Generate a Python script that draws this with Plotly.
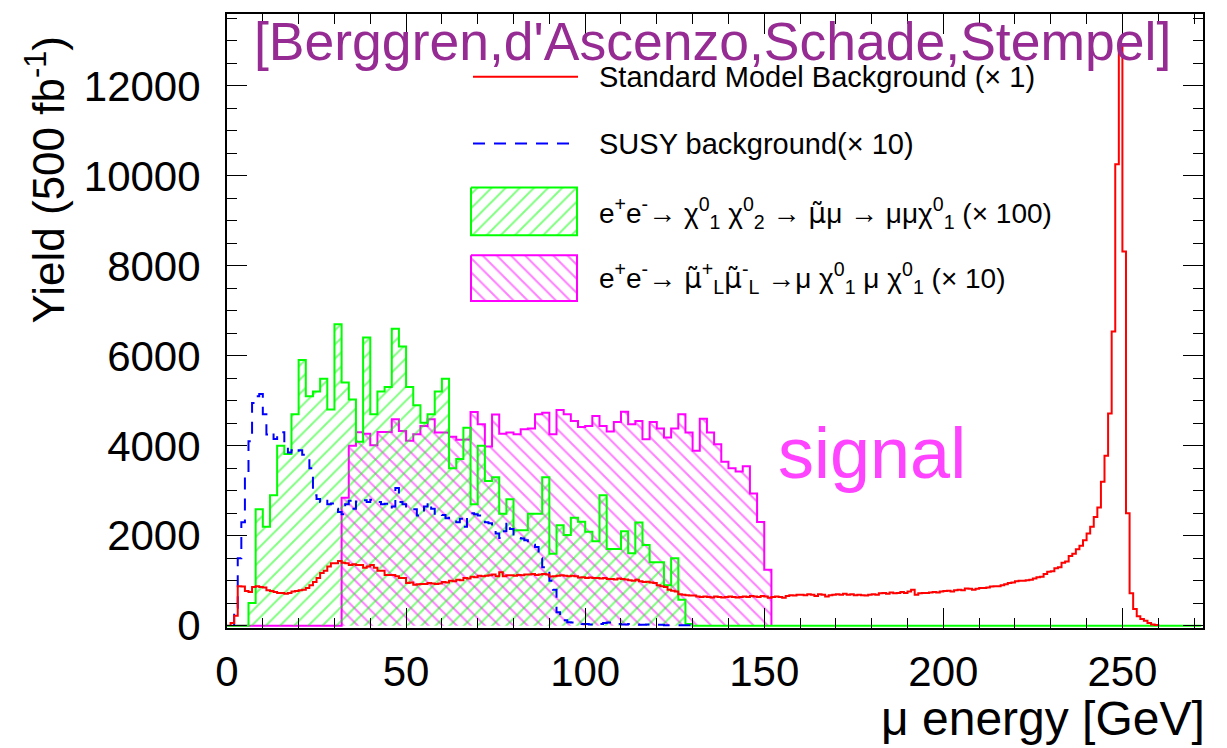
import plotly.graph_objects as go

# ---------------- data ----------------
# Standard Model background (x1), 1 GeV bins starting at 1 GeV
red_start, red_width = 1, 1
red_values = [
    60, 220, 880, 870, 770, 750, 860, 880, 860, 850,
    790, 770, 750, 730, 730, 710, 730, 760, 770, 790,
    800, 840, 900, 970, 1060, 1170, 1220, 1320, 1390, 1390,
    1440, 1400, 1390, 1350, 1370, 1350, 1350, 1290, 1320, 1350,
    1290, 1220, 1220, 1130, 1130, 1130, 1100, 1060, 1060, 950,
    960, 910, 920, 930, 930, 950, 940, 930, 940, 970,
    960, 1000, 990, 1020, 1010, 1060, 1050, 1090, 1080, 1110,
    1100, 1110, 1120, 1140, 1100, 1190, 1100, 1120, 1120, 1110,
    1130, 1120, 1140, 1140, 1150, 1130, 1140, 1150, 1140, 1095,
    1100, 1110, 1120, 1110, 1100, 1110, 1100, 1070, 1080, 1060,
    1070, 1060, 1060, 1050, 1060, 1040, 1040, 1030, 1050, 1040,
    1030, 1010, 1000, 1020, 990, 970, 980, 960, 950, 900,
    880, 860, 800, 780, 760, 700, 690, 680, 670, 670,
    650, 640, 650, 640, 630, 650, 640, 630, 640, 650,
    640, 630, 640, 650, 640, 660, 650, 640, 660, 650,
    620, 640, 650, 640, 620, 660, 680, 670, 690, 690,
    680, 700, 690, 660, 700, 690, 650, 680, 690, 700,
    690, 710, 690, 700, 680, 690, 680, 670, 690, 700,
    690, 720, 730, 710, 740, 720, 730, 750, 730, 760,
    800, 690, 720, 730, 730, 740, 750, 740, 760, 770,
    780, 760, 790, 800, 790, 830, 820, 800, 820, 840,
    840, 850, 870, 880, 880, 900, 920, 950, 960, 990,
    1000, 1000, 1010, 1020, 1050, 1080, 1090, 1150, 1200, 1210,
    1280, 1300, 1400, 1430, 1550, 1600, 1700, 1780, 1900, 2050,
    2200, 2420, 2630, 3200, 3780, 4720, 6540, 10260, 12890, 8320,
    2500, 720, 370, 210, 150, 110, 60, 30, 15,
]

# SUSY background (x10), 1 GeV bins starting at 2 GeV
blue_start, blue_width = 2, 1
blue_values = [
    400, 1500, 2300, 3400, 4100, 4950, 5100, 5150, 4700, 4250,
    4300, 4150, 4250, 4300, 4050, 3850, 3900, 3850, 3900, 3800,
    3800, 3500, 2900, 2820, 2750, 2800, 2700, 2720, 2600, 2530,
    2480, 2700, 2780, 2600, 2760, 2800, 2790, 2750, 2800, 2780,
    2750, 2700, 2710, 2600, 2650, 3060, 2750, 2700, 2650, 2600,
    2590, 2450, 2500, 2650, 2750, 2600, 2460, 2480, 2460, 2390,
    2400, 2350, 2300, 2380, 2200, 2400, 2500, 2480, 2450, 2350,
    2300, 2280, 2170, 2050, 1950, 2100, 2300, 2150, 2000, 1950,
    1940, 1900, 1850, 1800, 1750, 1500, 1300, 1240, 1000, 800,
    300, 200, 120, 80, 70, 60, 50, 40, 40, 30,
    30, 50, 40, 60, 70, 70, 50, 40, 30, 30,
    40, 30, 30, 20, 20, 30, 20, 20, 20, 20,
    10, 10, 10, 10, 10, 10, 10, 10,
]

# chi1 chi2 signal (x100), 2 GeV bins starting at 0 GeV
green_start, green_width = 0, 2
green_values = [
    0, 0, 0, 507, 2590, 2200, 2900, 4000, 3820, 4700,
    5910, 5100, 5210, 5490, 4810, 6700, 5410, 5030, 4090, 6410,
    4700, 5210, 5310, 6600, 6210, 5310, 4900, 4515, 4700, 5210,
    5490, 3500, 3705, 4400, 2700, 4000, 3220, 3300, 2490, 2810,
    2125, 2125, 2490, 2490, 3300, 1600, 2235, 2015, 2400, 2310,
    2090, 1880, 2900, 1705, 1705, 2100, 1610, 2295, 1795, 1410,
    1410, 900, 1500, 580, 40,
] + [0] * 71

# smuon pair signal (x10), 2 GeV bins starting at 0 GeV
magenta_start, magenta_width = 0, 2
magenta_values = [0] * 16 + [
    2846, 4000, 4300, 4270, 4015, 4309, 4309, 4589, 4331, 4111,
    4258, 4442, 4589, 4294, 4294, 4200, 4133, 4140, 4750, 4480,
    3986, 4699, 4270, 4295, 4258, 4368, 4383, 4700, 4736, 4258,
    4795, 4700, 4552, 4420, 4442, 4662, 4442, 4317, 4530, 4758,
    4480, 4552, 4147, 4530, 4383, 4185, 4383, 4700, 4295, 3890,
    4604, 4295, 4037, 3648, 3500, 3427, 3545, 2940, 2309, 1243,
]

x_range = [0, 272.5]
y_range = [-50, 13600]
x_ticks_major, x_ticks_minor = 50, 10
y_ticks_major, y_ticks_minor = 2000, 500

title_text = "[Berggren,d'Ascenzo,Schade,Stempel]"
SMU = '<span style="font-family:DejaVu Sans">μ̃</span>'
legend_texts = [
    "Standard Model Background (× 1)",
    "SUSY background(× 10)",
    "e<sup>+</sup>e<sup>-</sup>→ χ<sup>0</sup><sub>1</sub> χ<sup>0</sup><sub>2</sub> → " + SMU
    + "μ → μμχ<sup>0</sup><sub>1</sub> (× 100)",
    "e<sup>+</sup>e<sup>-</sup>→ " + SMU + "<sup>+</sup><sub>L</sub>" + SMU
    + "<sup>-</sup><sub>L</sub> →μ χ<sup>0</sup><sub>1</sub> μ χ<sup>0</sup><sub>1</sub> (× 10)",
]
legend_sizes = [29, 29, 28, 28]

RED, BLUE, GREEN, MAGENTA = "#ff0000", "#0000ff", "#00ff00", "#ff00ff"
FONT = "Liberation Sans, Arial, Helvetica, sans-serif"


def step(start, width, values):
    edges = [start + i * width for i in range(len(values) + 1)]
    xs = [edges[0]] + edges[:-1] + [edges[-1]]
    ys = [0] + list(values) + [0]
    return xs, ys


fig = go.Figure()
PAT_SIZE, PAT_SOL = 10, 0.2

mx, my = step(magenta_start, magenta_width, magenta_values)
fig.add_trace(go.Scatter(
    x=mx, y=my, mode="lines", line=dict(color=MAGENTA, width=2, shape="hv"),
    fill="tozeroy", fillcolor="rgba(0,0,0,0)",
    fillpattern=dict(shape="\\", fgcolor=MAGENTA, bgcolor="rgba(0,0,0,0)", size=PAT_SIZE, solidity=PAT_SOL),
    hoverinfo="skip"))

gx, gy = step(green_start, green_width, green_values)
fig.add_trace(go.Scatter(
    x=gx, y=gy, mode="lines", line=dict(color=GREEN, width=2, shape="hv"),
    fill="tozeroy", fillcolor="rgba(0,0,0,0)",
    fillpattern=dict(shape="/", fgcolor=GREEN, bgcolor="rgba(0,0,0,0)", size=PAT_SIZE, solidity=PAT_SOL),
    hoverinfo="skip"))

bx, by = step(blue_start, blue_width, blue_values)
fig.add_trace(go.Scatter(
    x=bx, y=by, mode="lines", line=dict(color=BLUE, width=2, shape="hv", dash="12px,9px"),
    hoverinfo="skip"))

rx, ry = step(red_start, red_width, red_values)
fig.add_trace(go.Scatter(
    x=rx, y=ry, mode="lines", line=dict(color=RED, width=2, shape="hv"),
    hoverinfo="skip"))

# ---- legend drawn in pixel-like overlay coordinates ----
box_left, box_right = 471, 577
boxes = [(186, 234, GREEN, "/"), (254, 300, MAGENTA, "\\")]
for top, bot, col, shp in boxes:
    fig.add_trace(go.Scatter(
        x=[box_left, box_right, box_right, box_left, box_left],
        y=[top, top, bot, bot, top], xaxis="x2", yaxis="y2",
        mode="lines", line=dict(color=col, width=2), fill="toself",
        fillcolor="rgba(0,0,0,0)",
        fillpattern=dict(shape=shp, fgcolor=col, bgcolor="rgba(0,0,0,0)", size=PAT_SIZE, solidity=PAT_SOL),
        hoverinfo="skip"))

shapes = [
    dict(type="line", xref="x2", yref="y2", x0=473, x1=578, y0=75, y1=75,
         line=dict(color=RED, width=2)),
    dict(type="line", xref="x2", yref="y2", x0=473, x1=578, y0=142, y1=142,
         line=dict(color=BLUE, width=2, dash="12px,9px")),
]

legend_y = [75, 142, 212, 277]
annotations = []
for txt, yy, sz in zip(legend_texts, legend_y, legend_sizes):
    annotations.append(dict(x=597, y=yy, xref="x2", yref="y2", text=txt, showarrow=False,
                            xanchor="left", yanchor="middle",
                            font=dict(family=FONT, size=sz, color="black")))

annotations.append(dict(x=712, y=40, xref="x2", yref="y2", text=title_text, showarrow=False,
                        xanchor="center", yanchor="middle",
                        font=dict(family=FONT, size=53.5, color="#952b93")))
annotations.append(dict(x=872, y=452, xref="x2", yref="y2", text="signal", showarrow=False,
                        xanchor="center", yanchor="middle",
                        font=dict(family=FONT, size=72, color="#ff44ff")))
annotations.append(dict(x=-0.1865, y=0.7305, xref="paper", yref="paper",
                        text="Yield (500 fb<sup>-1</sup>)", textangle=-90, showarrow=False,
                        xanchor="center", yanchor="middle",
                        font=dict(family=FONT, size=44, color="black")))
annotations.append(dict(x=1.004, y=-0.148, xref="paper", yref="paper",
                        text="μ energy [GeV]", showarrow=False,
                        xanchor="right", yanchor="middle",
                        font=dict(family=FONT, size=48, color="black")))

fig.update_layout(
    width=1227, height=748,
    margin=dict(l=227, r=24, t=12, b=120),
    plot_bgcolor="white", paper_bgcolor="white",
    showlegend=False,
    font=dict(family=FONT, color="black"),
    shapes=shapes, annotations=annotations,
    xaxis=dict(range=x_range, tick0=0, dtick=x_ticks_major, ticks="inside", ticklen=20,
               tickwidth=1, tickcolor="black",
               minor=dict(dtick=x_ticks_minor, ticklen=10, ticks="inside", tickcolor="black", tickwidth=1),
               showline=True, linecolor="black", linewidth=2, mirror="ticks",
               showgrid=False, zeroline=False, tickfont=dict(family=FONT, size=42),
               ticklabelstandoff=6),
    yaxis=dict(range=y_range, tick0=0, dtick=y_ticks_major, ticks="inside", ticklen=20,
               tickwidth=1, tickcolor="black", tickformat="d",
               minor=dict(dtick=y_ticks_minor, ticklen=10, ticks="inside", tickcolor="black", tickwidth=1),
               showline=True, linecolor="black", linewidth=2, mirror="ticks",
               showgrid=False, zeroline=False, tickfont=dict(family=FONT, size=42),
               ticklabelstandoff=16),
    xaxis2=dict(overlaying="x", range=[227, 1203], visible=False, anchor="y2", fixedrange=True),
    yaxis2=dict(overlaying="y", range=[628, 12], visible=False, anchor="x2", fixedrange=True),
)

fig.write_html("out.html")
